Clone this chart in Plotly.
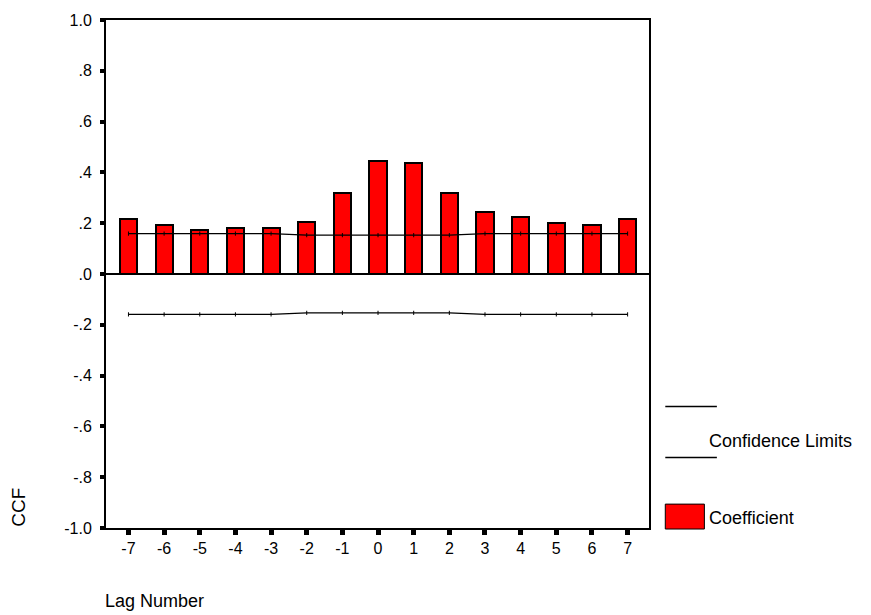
import plotly.graph_objects as go

lags = [-7, -6, -5, -4, -3, -2, -1, 0, 1, 2, 3, 4, 5, 6, 7]
coef = [0.217, 0.194, 0.173, 0.18, 0.18, 0.205, 0.32, 0.445, 0.436, 0.32, 0.245, 0.226, 0.2, 0.194, 0.217]
upper = [0.159, 0.159, 0.159, 0.159, 0.159, 0.153, 0.153, 0.153, 0.153, 0.153, 0.159, 0.159, 0.159, 0.159, 0.159]
lower = [-v for v in upper]
ytick_vals = [1.0, 0.8, 0.6, 0.4, 0.2, 0.0, -0.2, -0.4, -0.6, -0.8, -1.0]
ytick_text = ["1.0", ".8", ".6", ".4", ".2", ".0", "-.2", "-.4", "-.6", "-.8", "-1.0"]

FONT = "Liberation Sans, Arial, sans-serif"

fig = go.Figure()
fig.add_trace(go.Bar(x=lags, y=coef, width=0.48, marker=dict(color="#ff0000", line=dict(color="black", width=2)),
                     name="Coefficient", showlegend=False))
for ys in (upper, lower):
    fig.add_trace(go.Scatter(x=lags, y=ys, mode="lines+markers", line=dict(color="black", width=1.3),
                             marker=dict(symbol="line-ns-open", size=3, line=dict(color="black", width=1)),
                             showlegend=False, hoverinfo="skip"))

fig.add_shape(type="line", xref="paper", yref="y", x0=0, x1=1, y0=0, y1=0, line=dict(color="black", width=2))

# custom legend
fig.add_shape(type="line", xref="paper", yref="paper", x0=1.03, x1=1.125, y0=0.239, y1=0.239, line=dict(color="black", width=1.5))
fig.add_shape(type="line", xref="paper", yref="paper", x0=1.03, x1=1.125, y0=0.139, y1=0.139, line=dict(color="black", width=1.5))
fig.add_shape(type="rect", xref="paper", yref="paper", x0=1.03, x1=1.102, y0=-0.002, y1=0.047,
              line=dict(color="black", width=1), fillcolor="#ff0000")
fig.add_annotation(text="Confidence Limits", xref="paper", yref="paper", x=1.106, y=0.171, xanchor="left",
                   yanchor="middle", showarrow=False, font=dict(family=FONT, size=18, color="black"))
fig.add_annotation(text="Coefficient", xref="paper", yref="paper", x=1.106, y=0.02, xanchor="left",
                   yanchor="middle", showarrow=False, font=dict(family=FONT, size=18, color="black"))

fig.add_annotation(text="Lag Number", xref="paper", yref="paper", x=-0.005, y=-0.143, xanchor="left",
                   yanchor="middle", showarrow=False, font=dict(family=FONT, size=18, color="black"))
fig.add_annotation(text="CCF", xref="paper", yref="paper", x=-0.16, y=0.04, xanchor="center",
                   yanchor="middle", textangle=-90, showarrow=False, font=dict(family=FONT, size=19, color="black"))

fig.update_layout(
    width=871, height=615,
    margin=dict(l=106, r=222, t=20, b=87),
    paper_bgcolor="white", plot_bgcolor="white",
    bargap=0,
    font=dict(family=FONT, size=16, color="black"),
    xaxis=dict(range=[-7.63, 7.6], tickvals=lags, ticktext=[str(v) for v in lags], showgrid=False, zeroline=False,
               showline=True, linecolor="black", linewidth=2, mirror=True,
               ticks="outside", ticklen=5, tickwidth=5, tickcolor="black", tickfont=dict(size=16)),
    yaxis=dict(range=[-1.0, 1.0], tickvals=ytick_vals, ticktext=ytick_text, showgrid=False, zeroline=False,
               showline=True, linecolor="black", linewidth=2, mirror=True, ticklabelstandoff=5,
               ticks="outside", ticklen=4, tickwidth=4, tickcolor="black", tickfont=dict(size=16)),
)

fig.write_html("out.html")
